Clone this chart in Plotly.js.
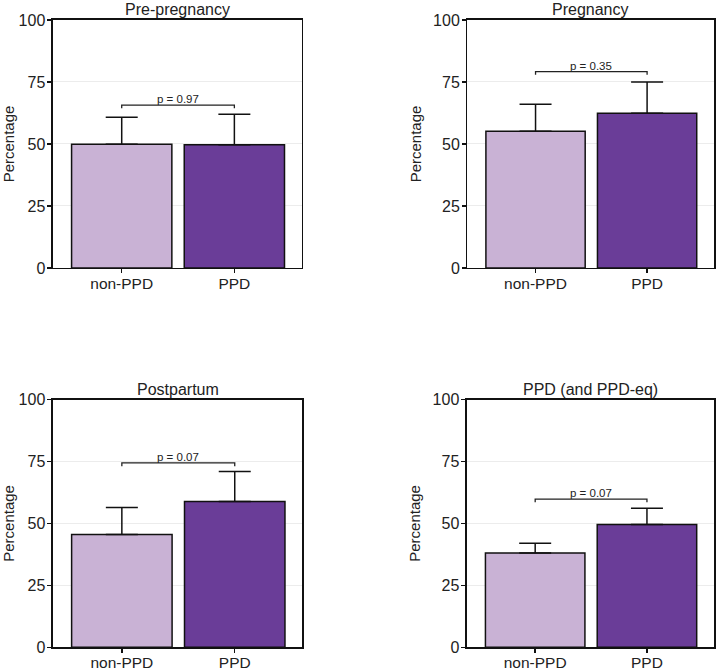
<!DOCTYPE html>
<html lang="en">
<head>
    <meta charset="UTF-8">
    <title>Percentage by group and period</title>
    <script src="https://cdn.plot.ly/plotly-3.0.1.min.js"></script>
    <style>
        body { margin: 0; background: #fff; }
        #myPlot { width: 720px; height: 671px; }
    </style>
</head>
<body>
    <div id="myPlot"></div>
    <script>
        // data
        const groups = ['non-PPD', 'PPD'];
        const panelTitles = ['Pre-pregnancy', 'Pregnancy', 'Postpartum', 'PPD (and PPD-eq)'];
        const means = [
            [49.9, 49.7],
            [55.1, 62.4],
            [45.5, 58.8],
            [38.1, 49.6]
        ];
        const errUp = [
            [10.9, 12.3],
            [10.9, 12.6],
            [10.9, 12.1],
            [3.9, 6.5]
        ];
        const bracketLevel = [65.7, 79.2, 74.4, 59.8];
        const pValues = ['p = 0.97', 'p = 0.35', 'p = 0.07', 'p = 0.07'];
        const yTicks = [0, 25, 50, 75, 100];

        const barColors = ['#c9b2d5', '#6a3d98'];
        const font = 'Liberation Sans, Arial, sans-serif';

        const xDomains = [[0.0736, 0.4194], [0.6493, 0.9917], [0.0736, 0.4201], [0.6486, 0.9917]];
        const yDomains = [[0.6006, 0.9702], [0.6006, 0.9702], [0.0353, 0.4046], [0.0353, 0.4046]];

        let data = [];
        let layout = {
            width: 720,
            height: 671,
            margin: {l: 0, r: 0, t: 0, b: 0},
            paper_bgcolor: '#fff',
            plot_bgcolor: '#fff',
            showlegend: false,
            font: {family: font, color: '#222'},
            annotations: []
        };

        panelTitles.forEach((title, i) => {
            let n = i === 0 ? '' : String(i + 1);
            let xa = 'x' + n, ya = 'y' + n;
            let xpos = groups.map((_, k) => k);

            data.push({
                type: 'bar',
                x: xpos,
                y: means[i],
                xaxis: xa, yaxis: ya,
                width: 0.89,
                marker: {color: barColors, line: {color: '#111', width: 1.5}},
                error_y: {
                    type: 'data', symmetric: false,
                    array: errUp[i], arrayminus: [0, 0],
                    color: '#111', thickness: 1.5, width: 16
                },
                hoverinfo: 'skip'
            });

            // significance bracket
            let b = bracketLevel[i];
            data.push({
                type: 'scatter', mode: 'lines',
                x: [0, 0, 1, 1],
                y: [b - 1.3, b, b, b - 1.3],
                xaxis: xa, yaxis: ya,
                line: {color: '#222', width: 1.3},
                hoverinfo: 'skip'
            });

            layout['xaxis' + n] = {
                domain: xDomains[i],
                anchor: ya,
                range: [-0.61, 1.6],
                tickvals: xpos,
                ticktext: groups,
                ticks: 'outside', ticklen: 4, tickwidth: 1.5, tickcolor: '#111',
                ticklabelstandoff: -3,
                showline: true, linecolor: '#111', linewidth: 1.5, mirror: true,
                showgrid: false, zeroline: false, fixedrange: true,
                tickfont: {size: 15.5, color: '#222'}
            };
            layout['yaxis' + n] = {
                domain: yDomains[i],
                anchor: xa,
                range: [0, 100],
                tickvals: yTicks,
                ticks: 'outside', ticklen: 4, tickwidth: 1.5, tickcolor: '#111',
                ticklabelstandoff: -1,
                showline: true, linecolor: '#111', linewidth: 1.5, mirror: true,
                showgrid: true, gridcolor: '#ececec', gridwidth: 1,
                zeroline: false, fixedrange: true,
                tickfont: {size: 16, color: '#222'},
                title: {text: 'Percentage', font: {size: 15, color: '#222'}, standoff: 8}
            };

            layout.annotations.push({
                text: title,
                xref: xa + ' domain', yref: ya + ' domain',
                x: 0.5, y: 1, xanchor: 'center', yanchor: 'bottom',
                yshift: 0, showarrow: false,
                font: {size: 16, color: '#222'}
            });
            layout.annotations.push({
                text: pValues[i],
                xref: xa, yref: ya,
                x: 0.5, y: b, xanchor: 'center', yanchor: 'bottom',
                yshift: -2, showarrow: false,
                font: {size: 11.5, color: '#222'}
            });
        });

        Plotly.newPlot('myPlot', data, layout, {staticPlot: true});
    </script>
</body>
</html>
